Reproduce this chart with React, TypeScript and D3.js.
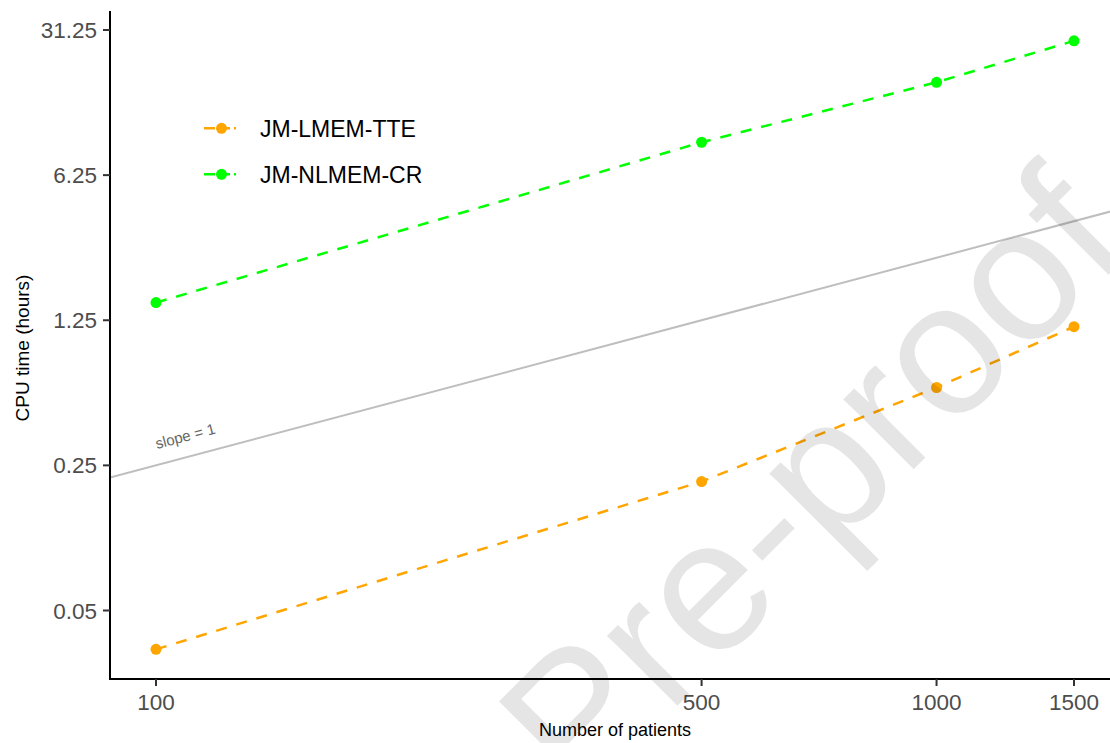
import * as d3 from 'd3'

const patients = [100, 500, 1000, 1500]
const seriesNames = ['JM-LMEM-TTE', 'JM-NLMEM-CR']
const seriesColors = ['#FFA500', '#00FF00']
const lmemTte = [0.0325, 0.209, 0.593, 1.164]
const nlmemCr = [1.52, 9.0, 17.5, 27.7]
const yTicks = [0.05, 0.25, 1.25, 6.25, 31.25]
const xTicks = [100, 500, 1000, 1500]
// reference line: cpu = 0.25 * (n / 100)
const slopeRef = { n0: 100, t0: 0.25 }

const W = 1110
const H = 743
const FONT = "'Liberation Sans', Arial, sans-serif"

export default function App() {
  const panel = { left: 110, right: 1120, top: 11, bottom: 679 }

  const x = d3.scaleLog().domain([100, 1500]).range([156, 1074])
  const y = d3.scaleLog().domain([0.05, 31.25]).range([610.5, 30])

  const nMin = x.invert(panel.left)
  const nMax = x.invert(panel.right)

  const series = [lmemTte, nlmemCr].map((vals, i) => ({
    name: seriesNames[i],
    color: seriesColors[i],
    points: patients.map((n, j) => ({ n, v: vals[j] })),
  }))

  const line = d3.line<{ n: number; v: number }>()
    .x(d => x(d.n))
    .y(d => y(d.v))

  const refLine = [nMin, nMax].map(n => ({ n, v: slopeRef.t0 * (n / slopeRef.n0) }))
  const ang = Math.atan2(y(refLine[0].v) - y(refLine[1].v), x(refLine[1].n) - x(refLine[0].n)) * 180 / Math.PI

  return (
    <svg width={W} height={H} style={{ position: 'absolute', left: 0, top: 0, background: '#fff' }} fontFamily={FONT}>
      <defs>
        <clipPath id="panel">
          <rect x={panel.left} y={panel.top} width={panel.right - panel.left} height={panel.bottom - panel.top} />
        </clipPath>
      </defs>

      {/* slope = 1 reference */}
      <g clipPath="url(#panel)">
        <path d={line(refLine) || ''} fill="none" stroke="#bebebe" strokeWidth={2} />
      </g>
      <text transform={`translate(157,449) rotate(${-ang})`} fontSize={15} fill="#666">slope = 1</text>

      {/* series */}
      {series.map(s => (
        <g key={s.name}>
          <path d={line(s.points) || ''} fill="none" stroke={s.color} strokeWidth={2.5} strokeDasharray="11 10" />
          {s.points.map(p => (
            <circle key={p.n} cx={x(p.n)} cy={y(p.v)} r={5.5} fill={s.color} />
          ))}
        </g>
      ))}

      {/* axes */}
      <line x1={panel.left} x2={panel.left} y1={panel.top} y2={panel.bottom + 1} stroke="#000" strokeWidth={2} />
      <line x1={panel.left - 1} x2={panel.right} y1={panel.bottom} y2={panel.bottom} stroke="#000" strokeWidth={2} />

      {yTicks.map(t => (
        <g key={t}>
          <line x1={panel.left - 7} x2={panel.left} y1={y(t)} y2={y(t)} stroke="#333" strokeWidth={2} />
          <text x={97} y={y(t)} dy="0.36em" textAnchor="end" fontSize={22.5} fill="#4d4d4d">{t}</text>
        </g>
      ))}
      {xTicks.map(t => (
        <g key={t}>
          <line x1={x(t)} x2={x(t)} y1={panel.bottom} y2={panel.bottom + 7} stroke="#333" strokeWidth={2} />
          <text x={x(t)} y={710} textAnchor="middle" fontSize={22.5} fill="#4d4d4d">{t}</text>
        </g>
      ))}

      <text x={(panel.left + panel.right) / 2} y={736} textAnchor="middle" fontSize={18} fill="#000">Number of patients</text>
      <text transform={`translate(29,${(panel.top + panel.bottom) / 2 + 3}) rotate(-90)`} textAnchor="middle" fontSize={19} fill="#000">CPU time (hours)</text>

      {/* legend */}
      {series.map((s, i) => {
        const ly = 128.3 + i * 46
        return (
          <g key={s.name}>
            <line x1={204} x2={236} y1={ly} y2={ly} stroke={s.color} strokeWidth={2.5} strokeDasharray="11 4" />
            <circle cx={221.5} cy={ly} r={5.5} fill={s.color} />
            <text x={260} y={ly} dy="0.36em" fontSize={23} fill="#000">{s.name}</text>
          </g>
        )
      })}

      {/* watermark */}
      <text transform="translate(809,479) rotate(-45)" textAnchor="middle" dy="0.358em" fontSize={188} fill="#000" fillOpacity={0.1}>Pre-proof</text>
    </svg>
  )
}
